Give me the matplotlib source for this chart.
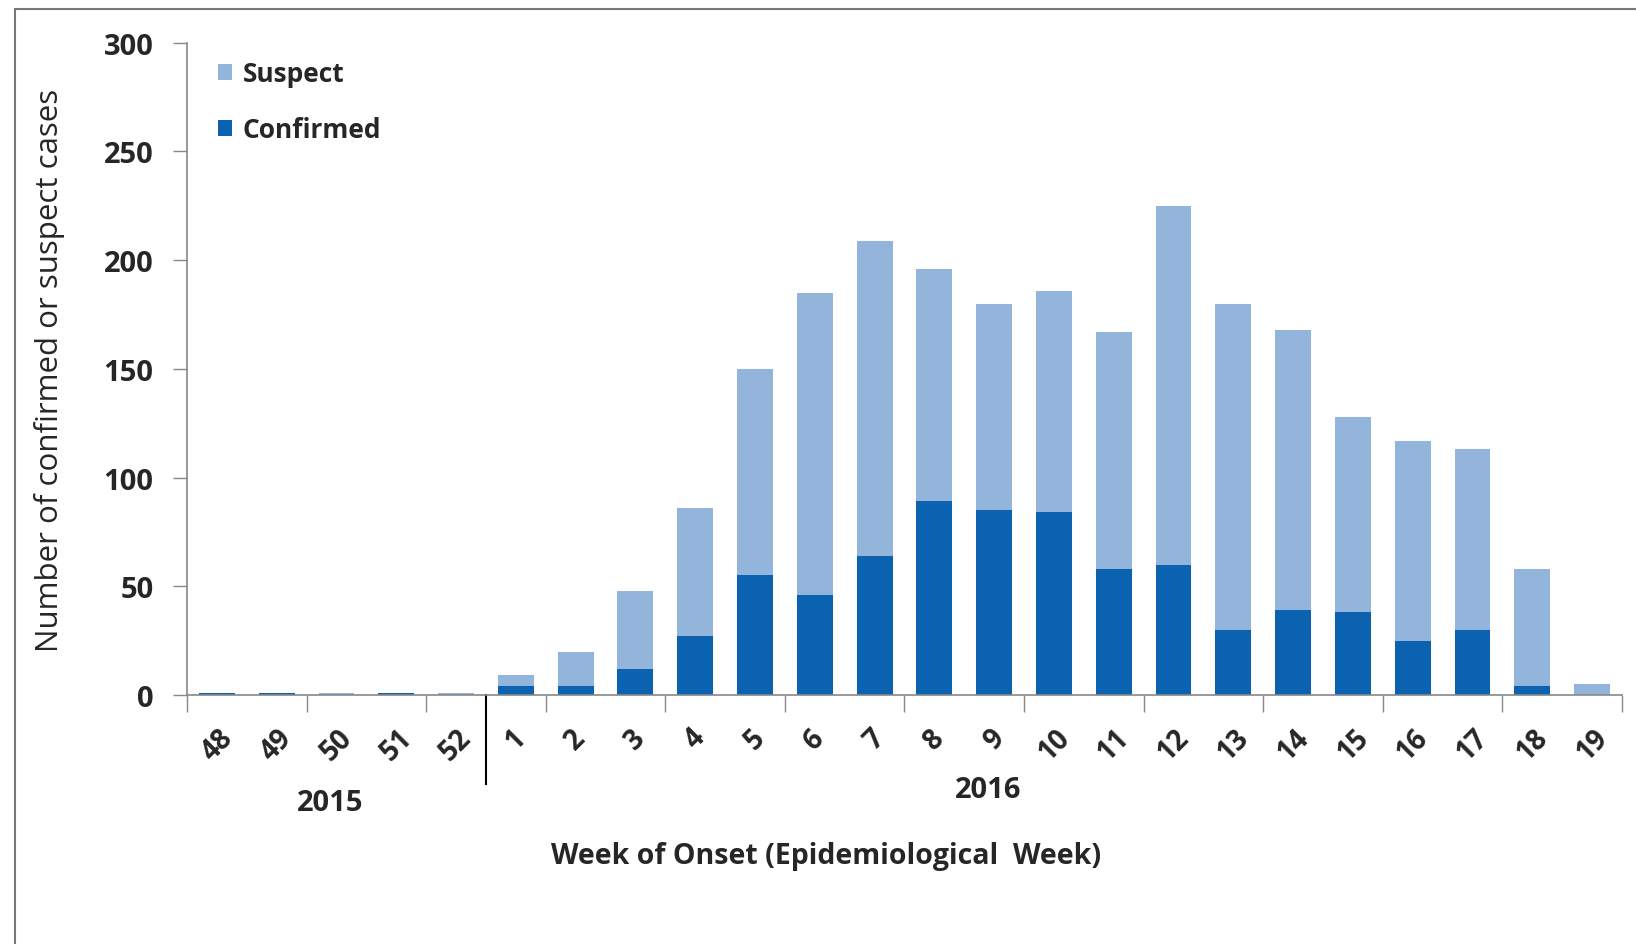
#!/usr/bin/env python3
"""Stacked bar chart of confirmed and suspect cases by epidemiological week."""
import matplotlib

matplotlib.use("Agg")
import matplotlib.pyplot as plt  # noqa: E402
from matplotlib.patches import Rectangle  # noqa: E402
from matplotlib.transforms import blended_transform_factory  # noqa: E402

WEEKS = ["48", "49", "50", "51", "52", "1", "2", "3", "4", "5", "6", "7",
         "8", "9", "10", "11", "12", "13", "14", "15", "16", "17", "18", "19"]
CONFIRMED = [1, 1, 0, 1, 0, 4, 4, 12, 27, 55, 46, 64,
             89, 85, 84, 58, 60, 30, 39, 38, 25, 30, 4, 0]
SUSPECT = [0, 0, 1, 0, 1, 5, 16, 36, 59, 95, 139, 145,
           107, 95, 102, 109, 165, 150, 129, 90, 92, 83, 54, 5]
YEARS = ["2015", "2016"]

LIGHT = "#93B5DC"
DARK = "#0A62B0"
TEXT = "#262626"
FONT = "Open Sans"

fig = plt.figure(figsize=(16.36, 9.45), dpi=100)
ax = fig.add_axes([0.1143, 0.2635, 0.8771, 0.6902])

x = list(range(len(WEEKS)))
ax.bar(x, CONFIRMED, width=0.6, color=DARK, label="Confirmed")
ax.bar(x, SUSPECT, width=0.6, bottom=CONFIRMED, color=LIGHT, label="Suspect")

ax.set_xlim(-0.5, len(WEEKS) - 0.5)
ax.set_ylim(0, 300)
ax.set_yticks(range(0, 301, 50))
ax.tick_params(axis="y", length=10, width=1, color="#888888", pad=14,
               labelsize=21, labelcolor=TEXT)
for lab in ax.get_yticklabels():
    lab.set_fontfamily(FONT)
    lab.set_fontweight("bold")

# boundary ticks every two weeks, labels at bar centres
ax.set_xticks([b - 0.5 for b in range(0, len(WEEKS) + 1, 2)])
ax.set_xticklabels([])
ax.tick_params(axis="x", which="major", length=12, width=1, color="#888888")
ax.set_xticks(x, minor=True)
ax.set_xticklabels(WEEKS, minor=True, rotation=45, ha="center", va="top",
                   fontsize=20, color=TEXT, fontfamily=FONT, fontweight="bold")
ax.tick_params(axis="x", which="minor", length=0, pad=20)

for side in ("top", "right"):
    ax.spines[side].set_visible(False)
for side in ("left", "bottom"):
    ax.spines[side].set_color("#888888")
    ax.spines[side].set_linewidth(1.2)

# year separator
trans = blended_transform_factory(ax.transData, ax.transAxes)
ax.plot([4.5, 4.5], [0, -0.136], transform=trans, color="black", lw=1.5,
        clip_on=False)
ax.text(1.9, -0.165, YEARS[0], transform=trans, ha="center", va="center",
        fontsize=21, fontfamily=FONT, fontweight="bold", color=TEXT)
ax.text(12.9, -0.145, YEARS[1], transform=trans, ha="center", va="center",
        fontsize=21, fontfamily=FONT, fontweight="bold", color=TEXT)

fig.text(0.505, 0.094, "Week of Onset (Epidemiological  Week)", ha="center",
         va="center", fontsize=20.5, fontfamily=FONT, fontweight="bold",
         color=TEXT)
fig.text(0.030, 0.608, "Number of confirmed or suspect cases", ha="center",
         va="center", rotation=90, fontsize=22.5, fontfamily=FONT, color=TEXT)

handles, labels = ax.get_legend_handles_labels()
leg = ax.legend(handles[::-1], labels[::-1], loc="upper left",
                bbox_to_anchor=(0.005, 1.01), frameon=False,
                handlelength=0.55, handleheight=0.55, handletextpad=0.4,
                labelspacing=1.1, prop={"family": FONT, "size": 19,
                                        "weight": "bold"})
for t in leg.get_texts():
    t.set_color(TEXT)

# outer frame of the scanned figure
fig.patches.append(Rectangle((0.0092, -0.05), 1.1, 1.039,
                             transform=fig.transFigure, fill=False,
                             edgecolor="#777777", lw=1.5))

fig.savefig("out.png", dpi=100)
